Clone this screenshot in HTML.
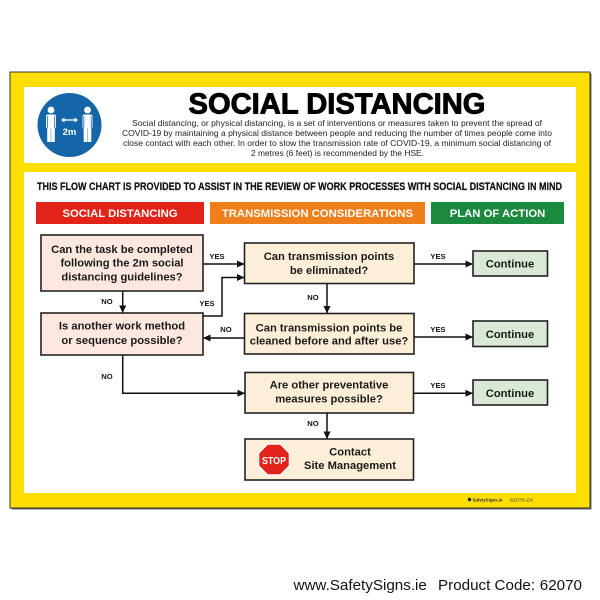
<!DOCTYPE html>
<html><head><meta charset="utf-8"><style>
html,body{margin:0;padding:0;background:#fff;width:600px;height:600px;overflow:hidden}
svg{display:block}
text{font-family:"Liberation Sans",Arial,sans-serif}
</style></head><body>
<svg width="600" height="600" viewBox="0 0 600 600" xmlns="http://www.w3.org/2000/svg">
<defs>
<marker id="ah" markerWidth="8" markerHeight="8" refX="7" refY="4" orient="auto" markerUnits="userSpaceOnUse">
<path d="M0,0.5 L7.5,4 L0,7.5 Z" fill="#111"/>
</marker>
</defs>
<!-- sign -->
<rect x="11.5" y="73.5" width="580" height="436" fill="#666"/>
<rect x="10" y="72" width="580" height="436" fill="#ffde00" stroke="#333" stroke-width="1"/>
<rect x="24" y="87" width="552" height="76" fill="#fff"/>
<rect x="24" y="172" width="552" height="321" fill="#fff"/>

<!-- icon -->
<circle cx="69.5" cy="125" r="32" fill="#1565a9"/>
<g fill="#fff">
<circle cx="51" cy="110" r="3.4"/>
<rect x="46" y="114.5" width="10" height="14" rx="2"/>
<rect x="47.2" y="127" width="3.6" height="15"/>
<rect x="51.2" y="127" width="3.6" height="15"/>
<circle cx="87.5" cy="110" r="3.4"/>
<rect x="82.5" y="114.5" width="10" height="14" rx="2"/>
<rect x="83.7" y="127" width="3.6" height="15"/>
<rect x="87.7" y="127" width="3.6" height="15"/>
</g>
<g stroke="#1565a9" stroke-width="0.8">
<line x1="47.3" y1="116" x2="47.3" y2="128"/><line x1="54.7" y1="116" x2="54.7" y2="128"/>
<line x1="83.8" y1="116" x2="83.8" y2="128"/><line x1="91.2" y1="116" x2="91.2" y2="128"/>
</g>
<line x1="63" y1="120" x2="76" y2="120" stroke="#fff" stroke-width="1.3"/>
<path d="M61,120 L64.5,117.5 L64.5,122.5Z M78,120 L74.5,117.5 L74.5,122.5Z" fill="#fff"/>
<text x="69.5" y="135" font-size="9.5" font-weight="bold" fill="#fff" text-anchor="middle">2m</text>

<!-- title -->
<text x="188.5" y="113.5" font-size="28.5" font-weight="bold" fill="#000" stroke="#000" stroke-width="0.9" stroke-linejoin="round" textLength="297" lengthAdjust="spacingAndGlyphs">SOCIAL DISTANCING</text>
<g font-size="8.3" fill="#222">
<text x="132" y="126" textLength="410" lengthAdjust="spacingAndGlyphs">Social distancing, or physical distancing, is a set of interventions or measures taken to prevent the spread of</text>
<text x="122" y="136" textLength="430" lengthAdjust="spacingAndGlyphs">COVID-19 by maintaining a physical distance between people and reducing the number of times people come into</text>
<text x="123" y="146" textLength="428" lengthAdjust="spacingAndGlyphs">close contact with each other. In order to slow the transmission rate of COVID-19, a minimum social distancing of</text>
<text x="251" y="156" textLength="173" lengthAdjust="spacingAndGlyphs">2 metres (6 feet) is recommended by the HSE.</text>
</g>

<!-- flow heading -->
<text x="37" y="190" font-size="10.8" font-weight="bold" fill="#111" stroke="#111" stroke-width="0.25" textLength="525" lengthAdjust="spacingAndGlyphs">THIS FLOW CHART IS PROVIDED TO ASSIST IN THE REVIEW OF WORK PROCESSES WITH SOCIAL DISTANCING IN MIND</text>

<rect x="36" y="202" width="168" height="22" fill="#e2231a"/>
<rect x="210" y="202" width="215" height="22" fill="#ef7f1a"/>
<rect x="431" y="202" width="133" height="22" fill="#1b8a3f"/>
<g font-size="11.3" font-weight="bold" fill="#fff" text-anchor="middle">
<text x="120" y="217">SOCIAL DISTANCING</text>
<text x="317.5" y="217">TRANSMISSION CONSIDERATIONS</text>
<text x="497.5" y="217">PLAN OF ACTION</text>
</g>

<!-- boxes -->
<g stroke="#222" stroke-width="1.6">
<rect x="41" y="235" width="162" height="56" fill="#fce8df"/>
<rect x="41" y="313" width="162" height="42" fill="#fce8df"/>
<rect x="244.5" y="243" width="169.5" height="40.5" fill="#fdefd7"/>
<rect x="244.5" y="313.5" width="169.5" height="40.5" fill="#fdefd7"/>
<rect x="245" y="372.5" width="168.5" height="40.5" fill="#fdefd7"/>
<rect x="245" y="439" width="168.5" height="41" fill="#fdefd7"/>
<rect x="473" y="251" width="74.5" height="25" fill="#d9e9d6"/>
<rect x="473" y="321" width="74.5" height="25.5" fill="#d9e9d6"/>
<rect x="473" y="380" width="74.5" height="25" fill="#d9e9d6"/>
</g>

<g font-size="11.2" font-weight="bold" fill="#1a1a1a" text-anchor="middle">
<text x="122" y="253">Can the task be completed</text>
<text x="122" y="266.7">following the 2m social</text>
<text x="122" y="280.3">distancing guidelines?</text>
<text x="122" y="329.7">Is another work method</text>
<text x="122" y="344">or sequence possible?</text>
<text x="329" y="260">Can transmission points</text>
<text x="329" y="274">be eliminated?</text>
<text x="329" y="331.3">Can transmission points be</text>
<text x="329" y="344.5">cleaned before and after use?</text>
<text x="329" y="388.3">Are other preventative</text>
<text x="329" y="402.3">measures possible?</text>
<text x="350" y="455.7">Contact</text>
<text x="350" y="469">Site Management</text>
<text x="510" y="267.5">Continue</text>
<text x="510" y="338">Continue</text>
<text x="510" y="397">Continue</text>
</g>

<!-- stop sign -->
<polygon points="267.4,443.5 280.6,443.5 290,452.9 290,466.1 280.6,475.5 267.4,475.5 258,466.1 258,452.9" fill="#fff"/>
<polygon points="267.9,444.8 280.1,444.8 288.7,453.4 288.7,465.6 280.1,474.2 267.9,474.2 259.3,465.6 259.3,453.4" fill="#e2231a"/>
<text x="262" y="463.8" font-size="10.5" font-weight="bold" fill="#fff" textLength="24" lengthAdjust="spacingAndGlyphs">STOP</text>

<!-- connectors -->
<g stroke="#111" stroke-width="1.5" fill="none" marker-end="url(#ah)">
<path d="M203,264 H244"/>
<path d="M203,316 H222 V277.5 H244"/>
<path d="M122.7,291 V312.5"/>
<path d="M327,283.5 V313"/>
<path d="M244.5,338 H203.5"/>
<path d="M122.7,355 V393.3 H244.5"/>
<path d="M327,413 V438.5"/>
<path d="M414,264 H472.5"/>
<path d="M414,337 H472.5"/>
<path d="M413.5,393.3 H472.5"/>
</g>

<g font-size="7.6" font-weight="bold" fill="#111" text-anchor="middle">
<text x="217" y="259">YES</text>
<text x="207" y="306">YES</text>
<text x="107" y="304">NO</text>
<text x="313" y="300">NO</text>
<text x="226" y="332">NO</text>
<text x="107" y="379">NO</text>
<text x="313" y="426">NO</text>
<text x="438" y="259">YES</text>
<text x="438" y="332">YES</text>
<text x="438" y="388">YES</text>
</g>

<!-- footer small -->
<circle cx="469.5" cy="499.5" r="1.7" fill="#222"/>
<text x="472.5" y="501.3" font-size="4.8" font-weight="bold" fill="#333" textLength="30" lengthAdjust="spacingAndGlyphs">SafetySigns.ie</text>
<text x="510" y="501.3" font-size="4.8" fill="#333" textLength="23" lengthAdjust="spacingAndGlyphs">62070-ZX</text>

<!-- bottom text -->
<g font-size="15.2" fill="#111">
<text x="293.5" y="590">www.SafetySigns.ie</text>
<text x="438" y="590">Product Code:</text>
<text x="582" y="590" text-anchor="end">62070</text>
</g>
</svg>
</body></html>
